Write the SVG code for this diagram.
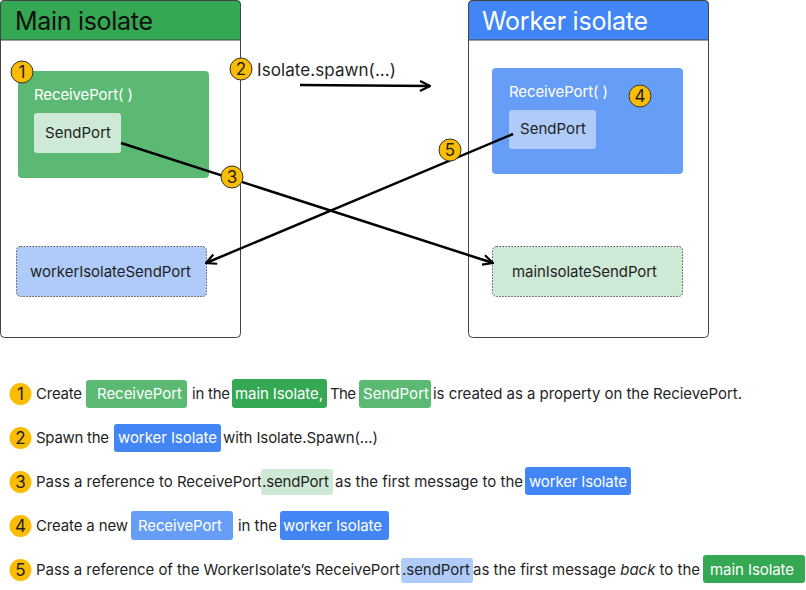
<svg xmlns="http://www.w3.org/2000/svg" width="806" height="590" viewBox="0 0 806 590">
<defs>
<style>
text{font-family:Inter,"Noto Sans","Liberation Sans",sans-serif;fill:#1f1f1f;font-size:15px}
.title{font-size:25px;fill:#111}
.w{fill:#fff}
.spawn{font-size:17px}
.frame{fill:#fff;stroke:#444;stroke-width:1}
.badge circle{fill:#FBBC04;stroke:#333;stroke-width:1}
.lb circle{stroke:none}
.badge text{font-size:17px;text-anchor:middle;fill:#1f1f1f}
.conn{stroke:#000;stroke-width:2.5;fill:none}
.dotted{stroke:#555;stroke-width:1;stroke-dasharray:1.5 1.5}
</style>
<marker id="ah" viewBox="0 0 12 12" refX="11" refY="6" markerWidth="12" markerHeight="12" markerUnits="userSpaceOnUse" orient="auto">
<path d="M1,1 L11,6 L1,11" fill="none" stroke="#000" stroke-width="2.2"/>
</marker>
</defs>
<rect width="806" height="590" fill="#fff"/>

<g id="main-isolate">
<rect class="frame" x="0.5" y="0.5" width="240" height="337" rx="4"/>
<path d="M0.5,40 V4.5 a4,4 0 0 1 4,-4 H236.5 a4,4 0 0 1 4,4 V40 Z" fill="#34A853" stroke="#444" stroke-width="1"/>
<text class="title" x="15" y="30" textLength="138">Main isolate</text>
</g>

<g id="worker-isolate">
<rect class="frame" x="468.5" y="0.5" width="240" height="337" rx="4"/>
<path d="M468.5,40 V4.5 a4,4 0 0 1 4,-4 H704.5 a4,4 0 0 1 4,4 V40 Z" fill="#4285F4" stroke="#444" stroke-width="1"/>
<text class="title w" x="482" y="30" textLength="166">Worker isolate</text>
</g>

<g id="main-receiveport">
<rect x="18" y="71" width="191" height="107" rx="4" fill="#5BB974"/>
<text class="w" x="34" y="100" textLength="99">ReceivePort( )</text>
</g>
<g id="main-sendport">
<rect x="34" y="113" width="87" height="40" rx="3" fill="#CEEAD6"/>
<text x="45" y="138" textLength="66">SendPort</text>
</g>

<g id="worker-receiveport">
<rect x="492" y="68" width="191" height="106" rx="4" fill="#669DF6"/>
<text class="w" x="509" y="97" textLength="99">ReceivePort( )</text>
</g>
<g id="worker-sendport">
<rect x="509" y="110" width="87" height="39" rx="3" fill="#AECBFA"/>
<text x="520" y="134" textLength="66">SendPort</text>
</g>

<g id="worker-isolate-sendport">
<rect class="dotted" x="16.5" y="246.5" width="190" height="50" rx="4" fill="#AECBFA"/>
<text x="30" y="277" textLength="161">workerIsolateSendPort</text>
</g>
<g id="main-isolate-sendport">
<rect class="dotted" x="492.5" y="246.5" width="190" height="50" rx="4" fill="#CEEAD6"/>
<text x="512" y="277" textLength="145">mainIsolateSendPort</text>
</g>

<g id="spawn-label">
<text class="spawn" x="257" y="76" textLength="139">Isolate.spawn(...)</text>
</g>

<g id="connectors">
<line class="conn" x1="300" y1="85" x2="430" y2="86" marker-end="url(#ah)"/>
<line class="conn" x1="121" y1="143" x2="493" y2="263" marker-end="url(#ah)"/>
<line class="conn" x1="513" y1="134" x2="206" y2="263" marker-end="url(#ah)"/>
</g>

<g id="badges">
<g class="badge"><circle cx="22" cy="72" r="11"/><text x="22" y="78">1</text></g>
<g class="badge"><circle cx="241" cy="69" r="11"/><text x="241" y="75">2</text></g>
<g class="badge"><circle cx="232" cy="177" r="11"/><text x="232" y="183">3</text></g>
<g class="badge"><circle cx="640" cy="96" r="11"/><text x="640" y="102">4</text></g>
<g class="badge"><circle cx="450" cy="150" r="11"/><text x="450" y="156">5</text></g>
</g>

<g id="legend">
<g class="badge lb"><circle cx="20.5" cy="394" r="11"/><text x="20.5" y="400">1</text></g>
<text x="36" y="399" textLength="46">Create</text>
<rect x="86" y="380" width="101" height="28" rx="3" fill="#5BB974"/>
<text class="w" x="97" y="399" textLength="85">ReceivePort</text>
<text x="192" y="399" textLength="38">in the</text>
<rect x="232" y="379" width="95" height="29" rx="3" fill="#34A853"/>
<text class="w" x="235" y="399" textLength="88">main Isolate,</text>
<text x="330" y="399" textLength="26">The</text>
<rect x="359" y="380" width="72" height="28" rx="3" fill="#5BB974"/>
<text class="w" x="363" y="399" textLength="66">SendPort</text>
<text x="433" y="399" textLength="309">is created as a property on the RecievePort.</text>

<g class="badge lb"><circle cx="20.5" cy="438" r="11"/><text x="20.5" y="444">2</text></g>
<text x="36" y="443" textLength="73">Spawn the</text>
<rect x="114" y="424" width="107" height="28" rx="3" fill="#4285F4"/>
<text class="w" x="118" y="443" textLength="99">worker Isolate</text>
<text x="223" y="443" textLength="155">with Isolate.Spawn(...)</text>

<g class="badge lb"><circle cx="20.5" cy="482" r="11"/><text x="20.5" y="488">3</text></g>
<text x="36" y="487" textLength="226">Pass a reference to ReceivePort</text>
<rect x="261" y="469" width="72" height="26" rx="3" fill="#CEEAD6"/>
<text x="262" y="487" textLength="67">.sendPort</text>
<text x="335" y="487" textLength="188">as the first message to the</text>
<rect x="525" y="467" width="106" height="28" rx="3" fill="#4285F4"/>
<text class="w" x="529" y="487" textLength="98">worker Isolate</text>

<g class="badge lb"><circle cx="20.5" cy="526" r="11"/><text x="20.5" y="532">4</text></g>
<text x="36" y="531" textLength="92">Create a new</text>
<rect x="131" y="511" width="102" height="29" rx="3" fill="#669DF6"/>
<text class="w" x="138" y="531" textLength="84">ReceivePort</text>
<text x="238" y="531" textLength="39">in the</text>
<rect x="280" y="511" width="109" height="29" rx="3" fill="#4285F4"/>
<text class="w" x="283" y="531" textLength="99">worker Isolate</text>

<g class="badge lb"><circle cx="20.5" cy="570" r="11"/><text x="20.5" y="576">5</text></g>
<text x="36" y="575" textLength="364">Pass a reference of the WorkerIsolate’s ReceivePort</text>
<rect x="401" y="558" width="72" height="25" rx="3" fill="#AECBFA"/>
<text x="402" y="575" textLength="68">.sendPort</text>
<text x="473" y="575" textLength="227">as the first message <tspan font-style="italic">back</tspan> to the</text>
<rect x="703" y="555" width="102" height="28" rx="3" fill="#34A853"/>
<text class="w" x="710" y="575" textLength="84">main Isolate</text>
</g>
</svg>
